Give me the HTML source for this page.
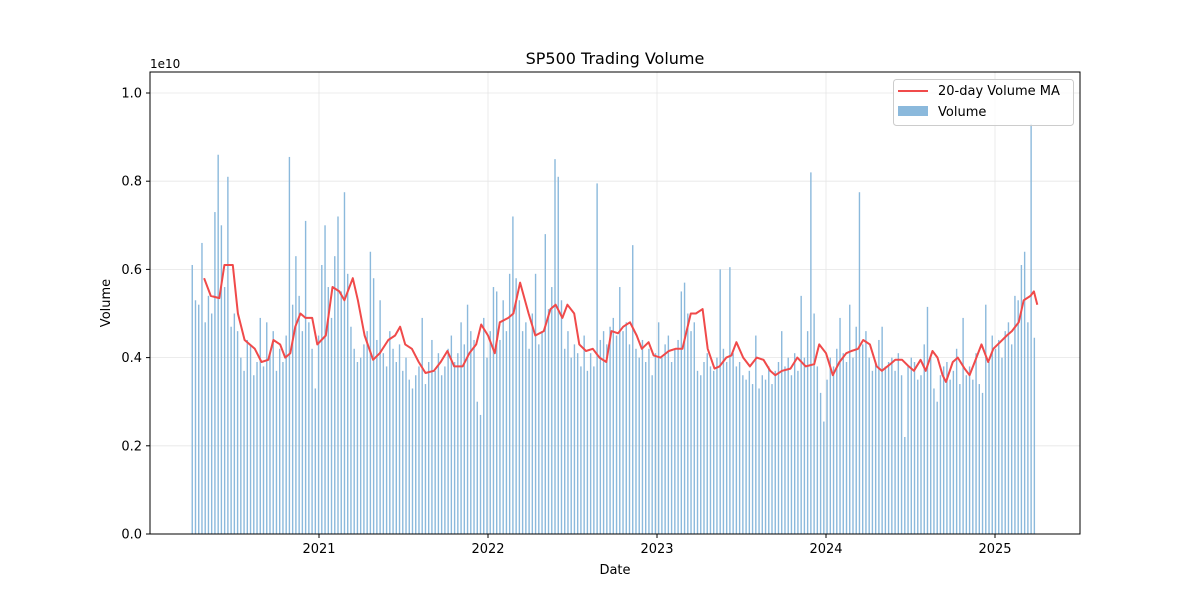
<!DOCTYPE html>
<html><head><meta charset="utf-8"><style>
body{margin:0;background:#fff;}
svg{display:block;font-family:"DejaVu Sans","Liberation Sans",sans-serif;}
</style></head><body>
<svg id="chart" width="1200" height="600" viewBox="0 0 1200 600">
<rect width="1200" height="600" fill="#fff"/>
<g id="grid"></g>
<g id="bars"></g>
<g id="ma"></g>
<rect x="150" y="72" width="930" height="462" fill="none" stroke="#000" stroke-width="1"/>
<g id="axes"></g>
<text x="615" y="64" font-size="16" text-anchor="middle">SP500 Trading Volume</text>
<text x="615" y="574" font-size="13" text-anchor="middle">Date</text>
<text x="110" y="303" font-size="13" text-anchor="middle" transform="rotate(-90 110 303)">Volume</text>
<text x="150" y="68" font-size="12">1e10</text>
<g>
<rect x="893.5" y="79.5" width="180" height="46" rx="3" fill="#fff" fill-opacity="0.8" stroke="#ccc"/>
<line x1="898" y1="91" x2="928" y2="91" stroke="#f04a4a" stroke-width="2"/>
<text x="938" y="95" font-size="13">20-day Volume MA</text>
<rect x="898" y="106" width="30" height="10" fill="#8bb9dc"/>
<text x="938" y="116" font-size="13">Volume</text>
</g>
</svg>
<script>
const volStart = 2020.25;
const volume = [6.1,5.3,5.2,6.6,4.8,5.4,5.0,7.3,8.6,7.0,5.6,8.1,4.7,5.0,4.6,4.0,3.7,4.4,4.3,3.6,3.9,4.9,3.8,4.8,4.1,4.6,3.7,4.2,3.9,4.5,8.55,5.2,6.3,5.4,4.6,7.1,4.8,4.2,3.3,
4.5,6.1,7.0,5.6,4.9,6.3,7.2,5.5,7.75,5.9,4.7,4.2,3.9,4.0,4.3,4.6,6.4,5.8,4.4,5.3,4.1,3.8,4.6,4.2,3.9,4.3,3.7,4.0,3.5,3.3,3.6,3.8,4.9,3.4,3.9,4.4,3.7,4.1,3.6,3.8,4.2,4.5,3.9,4.1,4.8,4.3,5.2,4.6,4.4,3.0,2.7,4.9,
4.0,4.6,5.6,5.5,4.4,5.3,4.6,5.9,7.2,5.8,5.3,4.6,4.8,4.2,5.0,5.9,4.3,4.6,6.8,5.1,5.6,8.5,8.1,5.3,4.2,4.6,4.0,4.3,4.1,3.8,4.5,3.7,4.1,3.8,7.95,4.4,4.6,4.3,4.7,4.9,4.5,5.6,4.6,4.8,4.3,6.55,4.2,4.0,4.4,3.9,4.2,3.6,
4.1,4.8,4.0,4.3,4.5,3.9,4.2,4.4,5.5,5.7,5.0,4.6,4.8,3.7,3.6,3.9,4.1,3.8,3.7,4.0,6.0,4.2,3.9,6.05,4.1,3.8,3.9,3.6,3.5,3.7,3.4,4.5,3.3,3.6,3.5,3.8,3.4,3.7,3.9,4.6,3.8,4.0,3.6,4.1,3.7,5.4,4.0,4.6,8.2,5.0,3.8,3.2,
2.55,3.5,4.0,3.8,4.2,4.9,4.1,3.9,5.2,4.0,4.7,7.75,4.3,4.6,4.0,3.7,3.9,4.4,4.7,3.8,3.9,4.0,3.7,4.1,3.6,2.2,3.8,4.0,3.9,3.5,3.6,4.3,5.15,4.0,3.3,3.0,3.6,3.8,3.9,3.5,3.7,4.2,3.4,4.9,3.6,3.8,3.5,4.1,3.4,3.2,5.2,3.9,
4.5,4.2,4.4,4.0,4.6,4.8,4.3,5.4,5.3,6.1,6.4,4.8,9.3,4.45];
const maDates = [2020.32,2020.36,2020.41,2020.44,2020.49,2020.52,2020.56,2020.62,2020.66,2020.70,2020.73,2020.77,2020.80,2020.83,2020.86,2020.89,2020.92,2020.96,2020.99,2021.04,2021.08,2021.12,2021.15,2021.20,2021.23,2021.27,2021.32,2021.36,2021.41,2021.45,2021.48,2021.51,2021.55,2021.59,2021.63,2021.68,2021.72,2021.76,2021.80,2021.85,2021.89,2021.93,2021.96,2022.00,2022.04,2022.07,2022.12,2022.15,2022.19,2022.24,2022.28,2022.33,2022.37,2022.40,2022.44,2022.47,2022.51,2022.54,2022.58,2022.62,2022.66,2022.70,2022.73,2022.77,2022.80,2022.84,2022.88,2022.91,2022.95,2022.98,2023.02,2023.07,2023.11,2023.15,2023.20,2023.23,2023.27,2023.30,2023.34,2023.37,2023.41,2023.44,2023.47,2023.51,2023.55,2023.59,2023.63,2023.67,2023.70,2023.74,2023.79,2023.83,2023.88,2023.93,2023.96,2024.00,2024.04,2024.08,2024.12,2024.15,2024.19,2024.22,2024.26,2024.30,2024.33,2024.38,2024.41,2024.45,2024.49,2024.52,2024.56,2024.59,2024.63,2024.66,2024.69,2024.71,2024.75,2024.78,2024.82,2024.85,2024.89,2024.92,2024.96,2024.99,2025.03,2025.07,2025.10,2025.14,2025.17,2025.21,2025.23,2025.25];
const maValues = [5.8,5.4,5.35,6.1,6.1,5.0,4.4,4.2,3.9,3.95,4.4,4.3,4.0,4.1,4.7,5.0,4.9,4.9,4.3,4.5,5.6,5.5,5.3,5.8,5.3,4.5,3.95,4.1,4.4,4.5,4.7,4.3,4.2,3.9,3.65,3.7,3.9,4.15,3.8,3.8,4.1,4.3,4.75,4.5,4.1,4.8,4.9,5.0,5.7,5.0,4.5,4.6,5.1,5.2,4.9,5.2,5.0,4.3,4.15,4.2,4.0,3.9,4.6,4.55,4.7,4.8,4.5,4.2,4.35,4.05,4.0,4.15,4.2,4.2,5.0,5.0,5.1,4.2,3.75,3.8,4.0,4.05,4.35,4.0,3.8,4.0,3.95,3.7,3.6,3.7,3.75,4.0,3.8,3.85,4.3,4.1,3.6,3.9,4.1,4.15,4.2,4.4,4.3,3.8,3.7,3.85,3.95,3.95,3.8,3.7,3.95,3.7,4.15,4.0,3.6,3.45,3.9,4.0,3.75,3.6,4.0,4.3,3.9,4.2,4.35,4.5,4.6,4.8,5.3,5.4,5.5,5.2];
const yTicks = [0,0.2,0.4,0.6,0.8,1.0];
const xTicks = [2021,2022,2023,2024,2025];

const X = d => 319 + (d - 2021) * 169;
const Y = v => 534 - v * 441; // v in units of 1e10
const NS = 'http://www.w3.org/2000/svg';
function mk(tag, attrs, parent){const e=document.createElementNS(NS,tag);for(const k in attrs)e.setAttribute(k,attrs[k]);parent.appendChild(e);return e;}
const grid=document.getElementById('grid'), axes=document.getElementById('axes'), bars=document.getElementById('bars'), ma=document.getElementById('ma');

yTicks.forEach(t=>{
  const y=Y(t);
  const g=mk('line',{x1:150,x2:1080,y1:y,y2:y,stroke:'#e6e6e6','stroke-width':0.8},grid);
  
  
  mk('line',{x1:146,x2:150,y1:y,y2:y,stroke:'#000'},axes);
  const tx=mk('text',{x:142,y:y+4.5,'font-size':13,'text-anchor':'end'},axes);
  tx.textContent=t.toFixed(1);
  
  
});
xTicks.forEach(t=>{
  const x=X(t);
  const g=mk('line',{x1:x,x2:x,y1:72,y2:534,stroke:'#e6e6e6','stroke-width':0.8},grid);
  
  
  mk('line',{x1:x,x2:x,y1:534,y2:538,stroke:'#000'},axes);
  const tx=mk('text',{x:x,y:553,'font-size':13,'text-anchor':'middle'},axes);
  tx.textContent=String(t);
  
  
});
volume.forEach((v,i)=>{
  const d=volStart+i*7/365.25;
  const x=X(d), y=Y(v/10);
  const r=mk('rect',{x:x-0.7,y:y,width:1.4,height:534-y,fill:'#8bb9dc'},bars);
  
  
});
const pts=maDates.map((d,i)=>X(d).toFixed(1)+','+Y(maValues[i]/10).toFixed(1)).join(' ');
const pl=mk('polyline',{points:pts,fill:'none',stroke:'#f04a4a','stroke-width':2,'stroke-linejoin':'round'},ma);


</script>
</body></html>
